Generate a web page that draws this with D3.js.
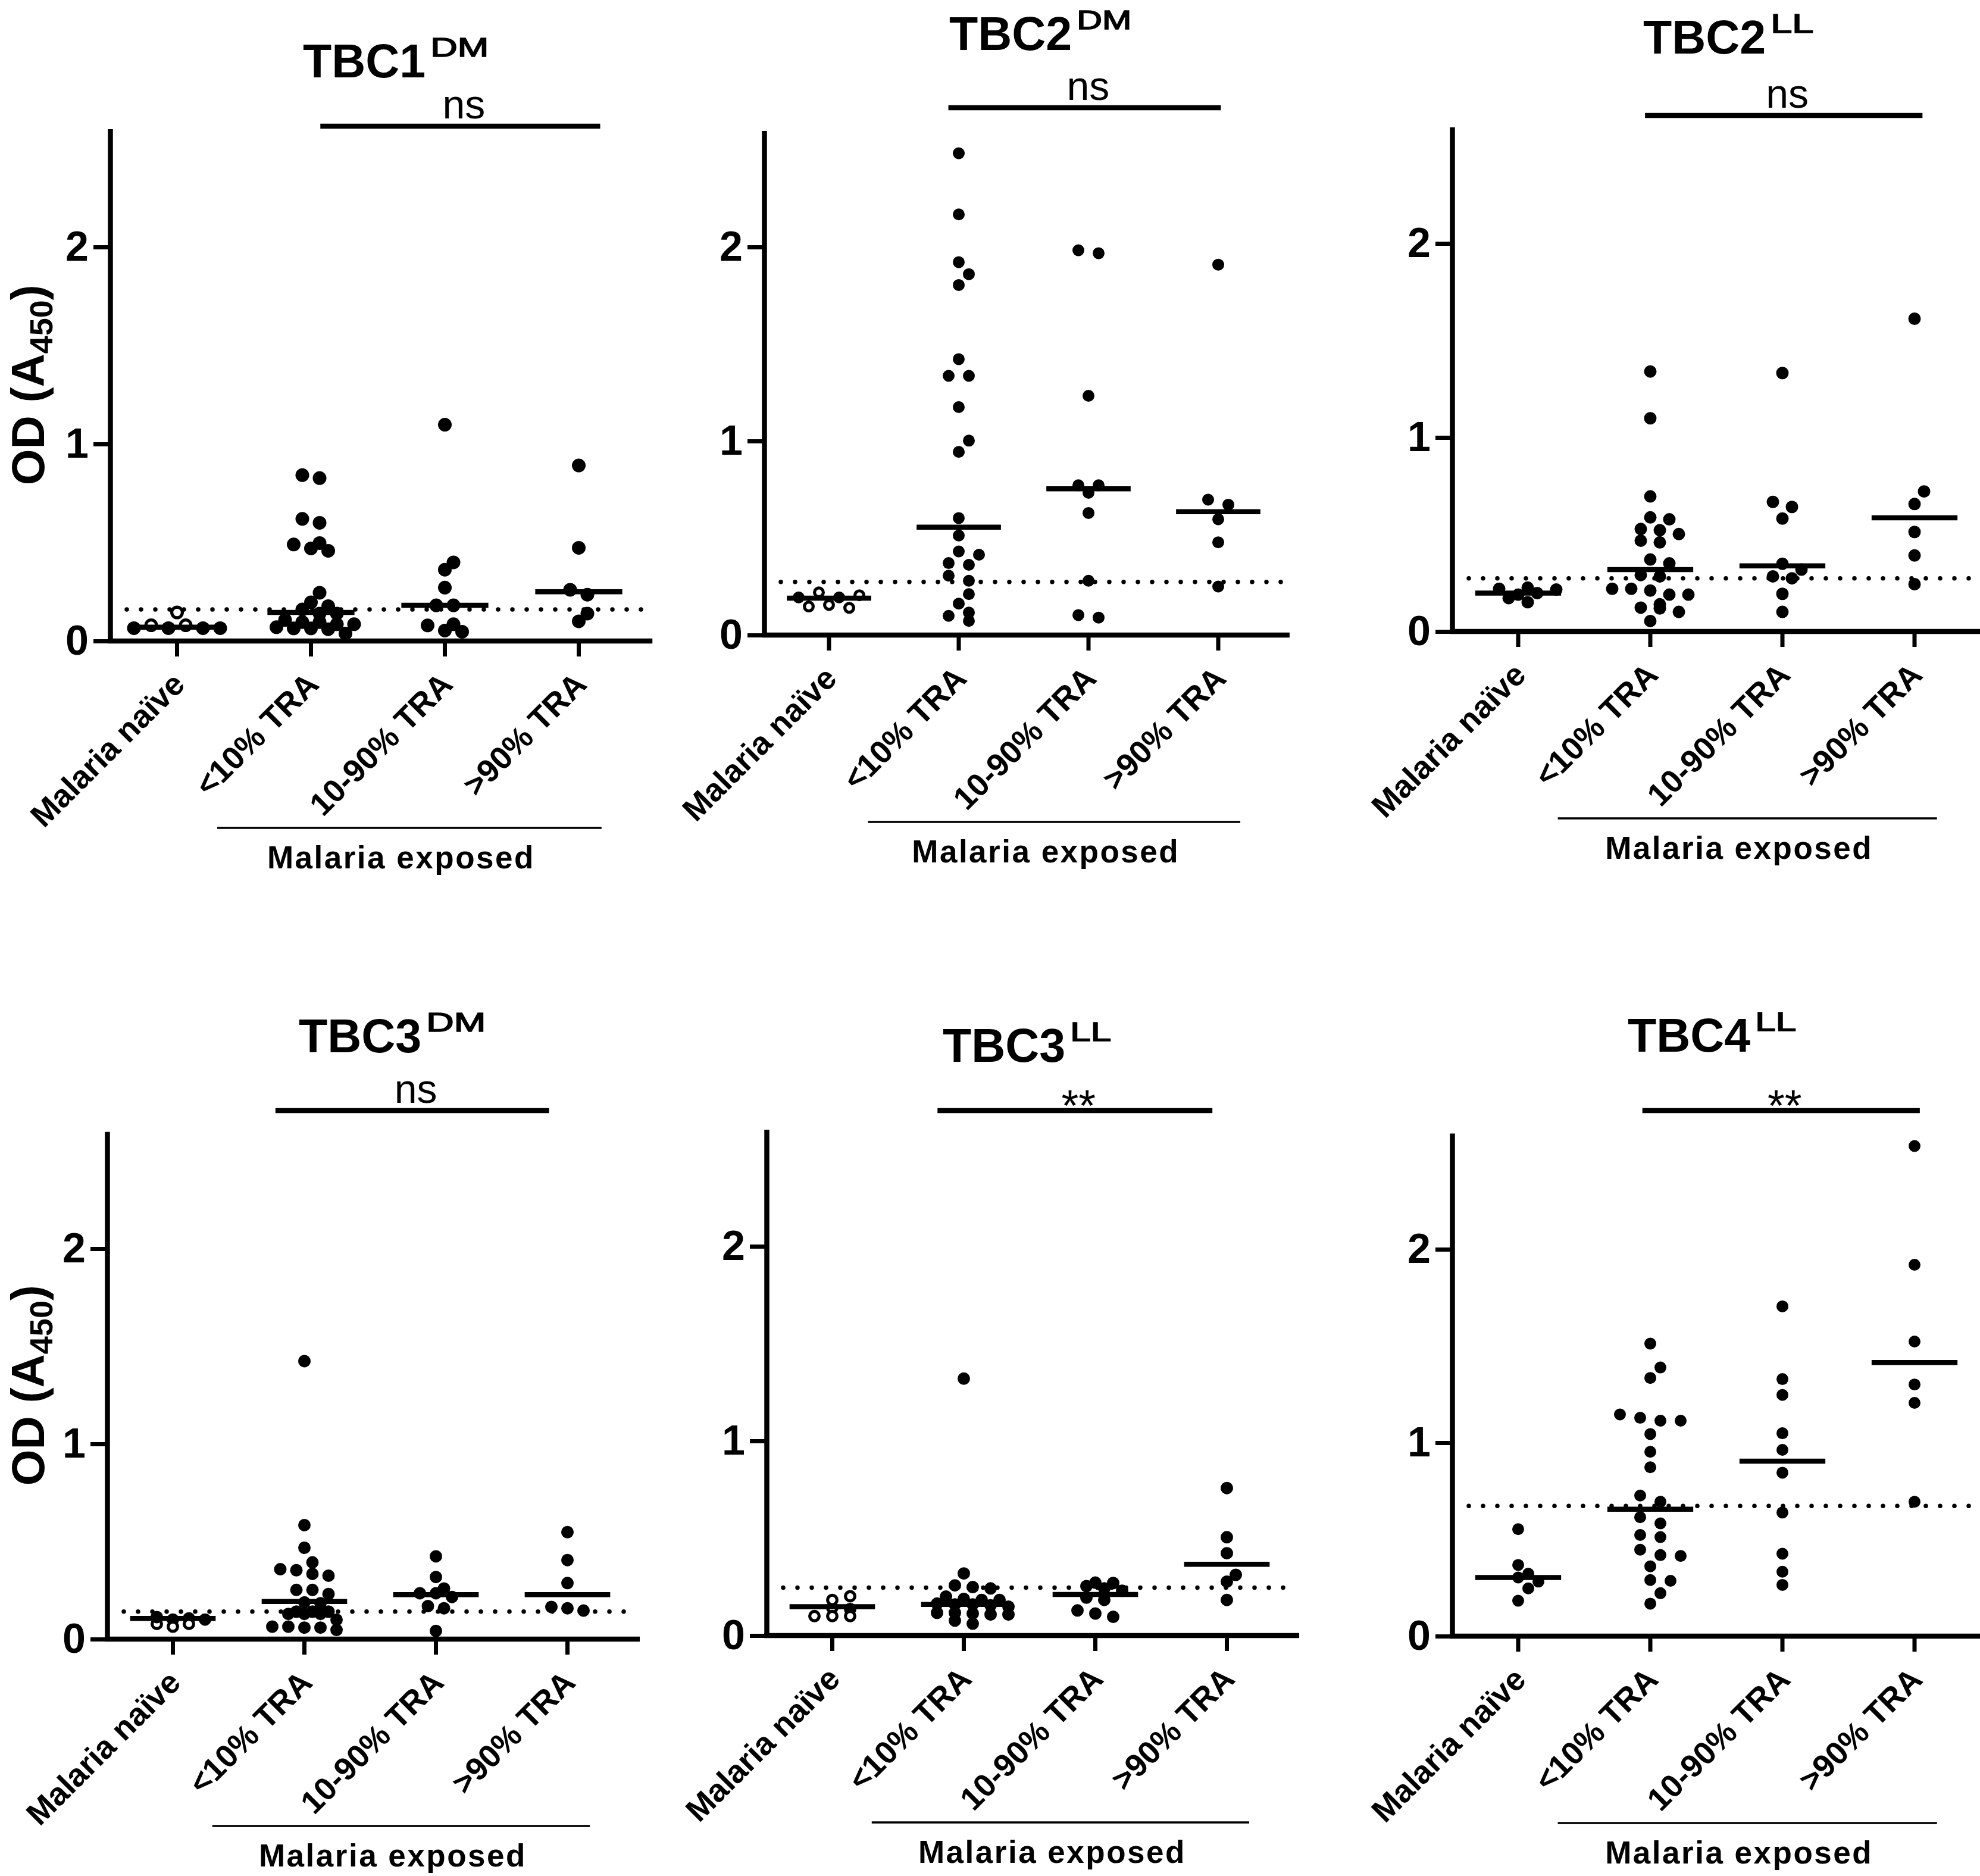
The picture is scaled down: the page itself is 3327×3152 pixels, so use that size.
<!DOCTYPE html>
<html><head><meta charset="utf-8">
<script src="https://cdn.jsdelivr.net/npm/d3@7"></script>
<style>
body{margin:0;background:#fff}
svg{display:block}
text{font-family:"Liberation Sans",Arial,Helvetica,sans-serif}
</style>
</head><body>
<svg id="chart" width="3327" height="3152"></svg>
<script>
// ---------- data ----------
const categories = ["Malaria naïve", "<10% TRA", "10-90% TRA", ">90% TRA"];
const yTicks = [0, 1, 2];
const yMax = 2.6;
const groupLabel = "Malaria exposed";
const yLabelMain = "OD (A";
const yLabelSub = "450";

// TBC1 DM
const tbc1DM_naive = [0.065, 0.08, 0.065, 0.145, 0.08, 0.065, 0.065];
const tbc1DM_naiveOpen = [0, 1, 0, 1, 1, 0, 0];
const tbc1DM_lt10 = [0.842, 0.827, 0.62, 0.60, 0.497, 0.49, 0.47, 0.458, 0.245, 0.196, 0.177, 0.16, 0.139, 0.139, 0.107, 0.096, 0.096, 0.085, 0.085, 0.07, 0.064, 0.064, 0.06, 0.038];
const tbc1DM_mid = [1.098, 0.399, 0.362, 0.271, 0.181, 0.181, 0.085, 0.079, 0.053, 0.047];
const tbc1DM_gt90 = [0.891, 0.473, 0.26, 0.235, 0.139, 0.10];
const tbc1DM_medians = [0.07, 0.145, 0.181, 0.25];

// TBC2 DM
const tbc2DM_naive = [0.147, 0.194, 0.22, 0.155, 0.194, 0.205, 0.14];
const tbc2DM_naiveOpen = [1, 0, 1, 1, 0, 1, 1];
const tbc2DM_lt10 = [2.483, 2.168, 1.922, 1.86, 1.804, 1.422, 1.336, 1.336, 1.175, 1.002, 0.944, 0.603, 0.513, 0.431, 0.414, 0.371, 0.362, 0.306, 0.28, 0.211, 0.162, 0.116, 0.099, 0.073];
const tbc2DM_mid = [1.983, 1.968, 1.233, 0.772, 0.772, 0.733, 0.629, 0.28, 0.103, 0.09];
const tbc2DM_gt90 = [1.909, 0.698, 0.672, 0.597, 0.478, 0.25];
const tbc2DM_medians = [0.19, 0.556, 0.754, 0.636];

// TBC2 LL
const tbc2LL_naive = [0.226, 0.172, 0.22, 0.19, 0.198, 0.216, 0.151];
const tbc2LL_naiveOpen = [0, 0, 0, 0, 0, 0, 0];
const tbc2LL_lt10 = [1.34, 1.099, 0.696, 0.588, 0.578, 0.528, 0.522, 0.502, 0.468, 0.459, 0.371, 0.351, 0.291, 0.284, 0.22, 0.22, 0.211, 0.19, 0.19, 0.14, 0.123, 0.119, 0.101, 0.054];
const tbc2LL_mid = [1.332, 0.668, 0.642, 0.582, 0.349, 0.319, 0.284, 0.274, 0.194, 0.101];
const tbc2LL_gt90 = [1.612, 0.722, 0.657, 0.513, 0.392, 0.244];
const tbc2LL_medians = [0.198, 0.319, 0.338, 0.586];

// TBC3 DM
const tbc3DM_naive = [0.078, 0.113, 0.10, 0.106, 0.064, 0.10, 0.078];
const tbc3DM_naiveOpen = [1, 0, 0, 0, 1, 0, 1];
const tbc3DM_lt10 = [1.424, 0.584, 0.468, 0.393, 0.358, 0.353, 0.334, 0.325, 0.252, 0.252, 0.231, 0.188, 0.184, 0.141, 0.141, 0.141, 0.129, 0.129, 0.129, 0.099, 0.064, 0.064, 0.059, 0.059, 0.047];
const tbc3DM_mid = [0.424, 0.318, 0.259, 0.235, 0.235, 0.216, 0.169, 0.158, 0.042];
const tbc3DM_gt90 = [0.548, 0.405, 0.287, 0.165, 0.158, 0.146];
const tbc3DM_medians = [0.106, 0.193, 0.228, 0.228];

// TBC3 LL
const tbc3LL_naive = [0.10, 0.143, 0.183, 0.10, 0.202, 0.136, 0.10];
const tbc3LL_naiveOpen = [1, 1, 1, 1, 1, 0, 1];
const tbc3LL_lt10 = [1.32, 0.319, 0.258, 0.249, 0.242, 0.2, 0.188, 0.183, 0.183, 0.164, 0.16, 0.16, 0.155, 0.148, 0.117, 0.117, 0.113, 0.108, 0.108, 0.077, 0.061];
const tbc3LL_mid = [0.272, 0.27, 0.254, 0.242, 0.23, 0.195, 0.183, 0.129, 0.113, 0.096];
const tbc3LL_gt90 = [0.758, 0.505, 0.423, 0.312, 0.277, 0.183];
const tbc3LL_medians = [0.148, 0.16, 0.211, 0.366];

// TBC4 LL
const tbc4LL_naive = [0.553, 0.368, 0.303, 0.323, 0.282, 0.247, 0.183];
const tbc4LL_naiveOpen = [0, 0, 0, 0, 0, 0, 0];
const tbc4LL_lt10 = [1.512, 1.389, 1.335, 1.146, 1.129, 1.114, 1.114, 1.045, 0.953, 0.873, 0.727, 0.695, 0.615, 0.583, 0.523, 0.512, 0.447, 0.419, 0.415, 0.361, 0.29, 0.286, 0.222, 0.168];
const tbc4LL_mid = [1.705, 1.329, 1.247, 1.049, 0.963, 0.845, 0.639, 0.426, 0.333, 0.265];
const tbc4LL_gt90 = [2.534, 1.92, 1.523, 1.301, 1.206, 0.695];
const tbc4LL_medians = [0.303, 0.656, 0.905, 1.415];

const titles = ["TBC1", "TBC2", "TBC2", "TBC3", "TBC3", "TBC4"];
const titleSups = ["DM", "DM", "LL", "DM", "LL", "LL"];
const significance = ["ns", "ns", "ns", "ns", "**", "**"];
const cutoffs = [0.16, 0.274, 0.274, 0.141, 0.246, 0.673];

// ---------- layout (positions / styles) ----------
const layouts = [
  {axisX:185,  y0:1077, unit:331, band:225, r:11.5, s:29, titleX:509,  titleY:130,  supW:98, sigY:212,  sigSpan:[1.07,3.16], yLabel:true},
  {axisX:1284, y0:1067, unit:326, band:218, r:10,   s:34, titleX:1595, titleY:84,   supW:92, sigY:181,  sigSpan:[0.92,3.02], yLabel:false},
  {axisX:2440, y0:1061, unit:326, band:222, r:10.5, s:32, titleX:2761, titleY:90,   supW:72, sigY:194,  sigSpan:[0.96,3.06], yLabel:false},
  {axisX:180,  y0:2754, unit:328, band:221, r:10.5, s:27, titleX:502,  titleY:1768, supW:100,sigY:1866, sigSpan:[0.78,2.86], yLabel:true},
  {axisX:1288, y0:2748, unit:327, band:221, r:10.5, s:30, titleX:1584, titleY:1784, supW:69, sigY:1866, sigSpan:[0.80,2.89], yLabel:false},
  {axisX:2440, y0:2749, unit:325, band:222, r:10,   s:34, titleX:2735, titleY:1767, supW:69, sigY:1866, sigSpan:[0.94,3.04], yLabel:false}
];

const panelData = [
  {groups:[tbc1DM_naive, tbc1DM_lt10, tbc1DM_mid, tbc1DM_gt90], open:tbc1DM_naiveOpen, medians:tbc1DM_medians},
  {groups:[tbc2DM_naive, tbc2DM_lt10, tbc2DM_mid, tbc2DM_gt90], open:tbc2DM_naiveOpen, medians:tbc2DM_medians},
  {groups:[tbc2LL_naive, tbc2LL_lt10, tbc2LL_mid, tbc2LL_gt90], open:tbc2LL_naiveOpen, medians:tbc2LL_medians},
  {groups:[tbc3DM_naive, tbc3DM_lt10, tbc3DM_mid, tbc3DM_gt90], open:tbc3DM_naiveOpen, medians:tbc3DM_medians},
  {groups:[tbc3LL_naive, tbc3LL_lt10, tbc3LL_mid, tbc3LL_gt90], open:tbc3LL_naiveOpen, medians:tbc3LL_medians},
  {groups:[tbc4LL_naive, tbc4LL_lt10, tbc4LL_mid, tbc4LL_gt90], open:tbc4LL_naiveOpen, medians:tbc4LL_medians}
];

const W = 3327, H = 3152;
const FONT = '"Liberation Sans",Arial,Helvetica,sans-serif';
const svg = d3.select("#chart");
svg.append("rect").attr("width", W).attr("height", H).attr("fill", "#fff");

// GraphPad-like scatter layout: rows of near-equal values spread horizontally
function swarm(values, y, r, s) {
  const items = values.map((v, i) => ({v, i, py: y(v)}));
  const sorted = items.slice().sort((a, b) => a.v - b.v);
  const rows = [];
  let cur = null;
  const binH = 11;
  sorted.forEach(it => {
    if (!cur || Math.abs(it.py - cur.start) > binH) { cur = {start: it.py, items: []}; rows.push(cur); }
    cur.items.push(it);
  });
  const placed = [];
  const minD = 2 * r + 1;
  rows.forEach(row => {
    row.items.sort((a, b) => a.i - b.i);
    const n = row.items.length;
    const base = row.items.map((it, k) => (k - (n - 1) / 2) * s);
    const collides = sh => row.items.some((it, k) => placed.some(p => Math.hypot(p.dx - (base[k] + sh), p.py - it.py) < minD));
    let shift = 0;
    if (collides(0)) {
      if (!collides(s / 2)) shift = s / 2;
      else if (!collides(-s / 2)) shift = -s / 2;
      else shift = s / 2;
    }
    row.items.forEach((it, k) => { it.dx = base[k] + shift; placed.push(it); });
  });
  return items;
}

layouts.forEach((L, pi) => {
  const P = panelData[pi];
  const g = svg.append("g");
  const x = d3.scaleBand().domain(categories).range([L.axisX, L.axisX + 4 * L.band]);
  const cx = c => x(c) + x.bandwidth() / 2;
  const xi = d3.scaleLinear().domain([0, 3]).range([cx(categories[0]), cx(categories[3])]);
  const y = d3.scaleLinear().domain([0, yMax]).range([L.y0, L.y0 - yMax * L.unit]);
  const xEnd = Math.min(L.axisX + 4.05 * L.band, W);

  // cutoff dotted line
  g.append("line")
    .attr("x1", L.axisX + 28).attr("x2", xEnd - 10)
    .attr("y1", y(cutoffs[pi])).attr("y2", y(cutoffs[pi]))
    .attr("stroke", "#000").attr("stroke-width", 7.5)
    .attr("stroke-linecap", "round").attr("stroke-dasharray", "0 24");

  // points
  P.groups.forEach((vals, gi) => {
    const pts = swarm(vals, y, L.r, L.s);
    pts.forEach(pt => {
      const open = gi === 0 && P.open[pt.i] === 1;
      g.append("circle")
        .attr("cx", cx(categories[gi]) + pt.dx)
        .attr("cy", pt.py)
        .attr("r", open ? L.r - 2.6 : L.r)
        .attr("fill", open ? "#fff" : "#000")
        .attr("stroke", open ? "#000" : "none")
        .attr("stroke-width", open ? 5.2 : 0);
    });
  });

  // medians
  const mw = 0.325 * L.band;
  P.medians.forEach((m, gi) => {
    g.append("line")
      .attr("x1", cx(categories[gi]) - mw).attr("x2", cx(categories[gi]) + mw)
      .attr("y1", y(m)).attr("y2", y(m))
      .attr("stroke", "#000").attr("stroke-width", 8.5);
  });

  // y axis
  const yAxis = d3.axisLeft(y).tickValues(yTicks).tickFormat(d3.format("d"))
    .tickSize(28).tickSizeOuter(0).tickPadding(8);
  const ya = g.append("g").attr("transform", `translate(${L.axisX},0)`).call(yAxis)
    .attr("font-size", 70).attr("font-family", FONT).attr("font-weight", "bold");
  ya.select(".domain").attr("stroke-width", 8.5).attr("stroke", "#000");
  ya.selectAll(".tick line").attr("stroke-width", 7).attr("stroke", "#000");
  ya.selectAll(".tick text").attr("fill", "#000");

  // x axis
  const xAxis = d3.axisBottom(x).tickSize(26).tickSizeOuter(0).tickFormat("");
  const xa = g.append("g").attr("transform", `translate(0,${L.y0})`).call(xAxis);
  xa.select(".domain").remove();
  xa.selectAll(".tick line").attr("stroke-width", 7).attr("stroke", "#000");
  g.append("line").attr("x1", L.axisX - 4).attr("x2", xEnd)
    .attr("y1", L.y0).attr("y2", L.y0)
    .attr("stroke", "#000").attr("stroke-width", 8.5);

  // category labels
  categories.forEach(c => {
    g.append("text")
      .attr("transform", `translate(${cx(c) + 16},${L.y0 + 76}) rotate(-45)`)
      .attr("text-anchor", "end")
      .attr("font-size", 54).attr("font-weight", "bold")
      .text(c);
  });

  // Malaria exposed bracket
  const gx1 = xi(1) - 0.7 * L.band, gx2 = xi(3) + 0.17 * L.band;
  g.append("line").attr("x1", gx1).attr("x2", gx2)
    .attr("y1", L.y0 + 314).attr("y2", L.y0 + 314)
    .attr("stroke", "#000").attr("stroke-width", 3.5);
  g.append("text").attr("x", (gx1 + gx2) / 2 - 14).attr("y", L.y0 + 382)
    .attr("text-anchor", "middle").attr("font-size", 53).attr("font-weight", "bold")
    .attr("letter-spacing", 2.5).text(groupLabel);

  // title
  const tMain = g.append("text").attr("x", L.titleX).attr("y", L.titleY)
    .attr("font-size", 79).attr("font-weight", "bold").text(titles[pi]);
  const tw = tMain.node().getComputedTextLength();
  g.append("text").attr("x", L.titleX + tw + 8).attr("y", L.titleY - 35)
    .attr("font-size", 44)
    .attr("stroke", "#000").attr("stroke-width", 1.6)
    .attr("textLength", L.supW).attr("lengthAdjust", "spacingAndGlyphs")
    .text(titleSups[pi]);

  // significance bar
  const s0 = xi(L.sigSpan[0]), s1 = xi(L.sigSpan[1]);
  g.append("line").attr("x1", s0).attr("x2", s1).attr("y1", L.sigY).attr("y2", L.sigY)
    .attr("stroke", "#000").attr("stroke-width", 8.5);
  const sigText = significance[pi];
  g.append("text").attr("x", (s0 + s1) / 2 + 6)
    .attr("y", sigText === "ns" ? L.sigY - 13 : L.sigY + 17)
    .attr("text-anchor", "middle")
    .attr("font-size", sigText === "ns" ? 68 : 74)
    .text(sigText);

  // y label
  if (L.yLabel) {
    const yl = g.append("text")
      .attr("transform", `translate(74,${(y(0) + y(yMax)) / 2}) rotate(-90)`)
      .attr("text-anchor", "middle").attr("font-size", 78).attr("font-weight", "bold");
    yl.append("tspan").text(yLabelMain);
    yl.append("tspan").attr("font-size", 54).attr("dy", 14).text(yLabelSub);
    yl.append("tspan").attr("dy", -14).text(")");
  }
});
</script>
</body></html>
